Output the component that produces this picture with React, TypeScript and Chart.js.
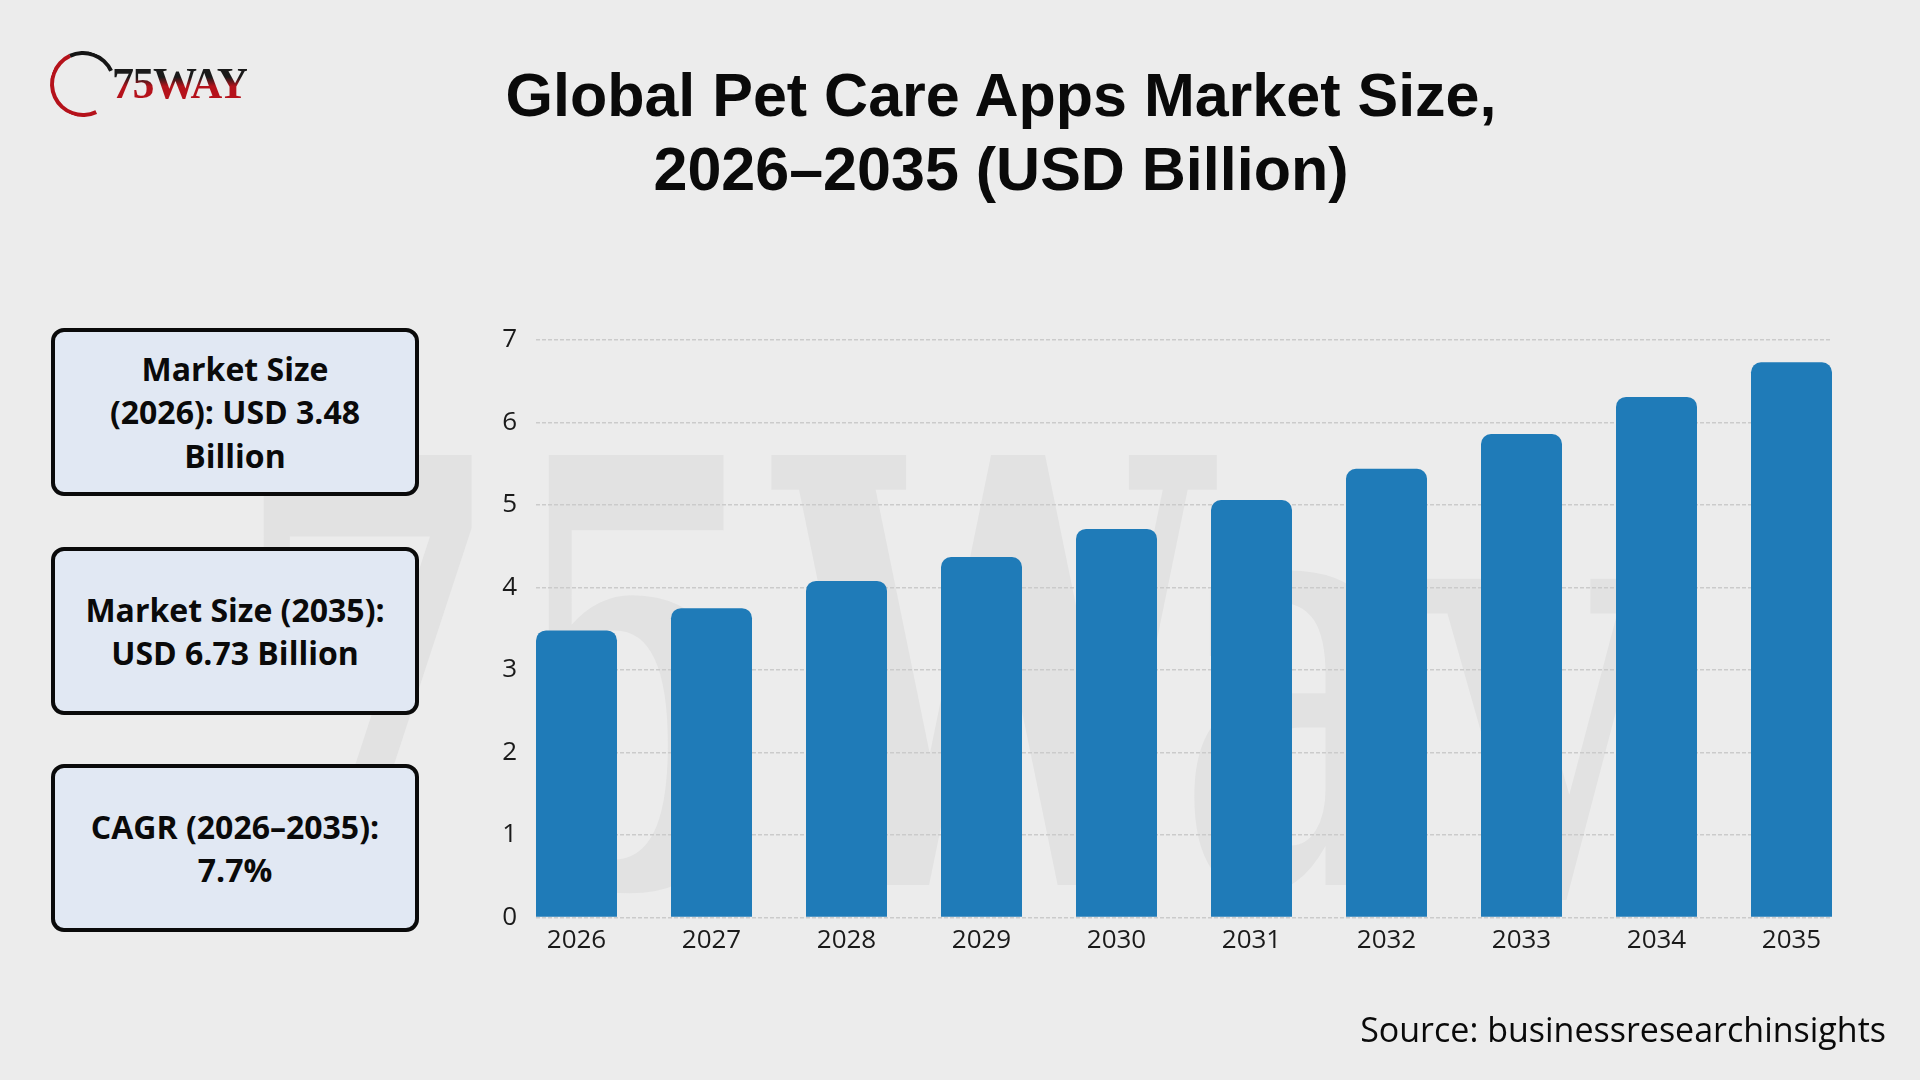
import React, { useEffect, useRef } from "react";
import { Chart, registerables } from "chart.js";

Chart.register(...registerables);

const years = ["2026", "2027", "2028", "2029", "2030", "2031", "2032", "2033", "2034", "2035"];
const marketSize = [3.48, 3.75, 4.08, 4.37, 4.71, 5.06, 5.44, 5.86, 6.31, 6.73];
const yMin = 0;
const yMax = 7;
const yStep = 1;

const titleLines = ["Global Pet Care Apps Market Size,", "2026\u20132035 (USD Billion)"];
const infoBoxes = [
  ["Market Size", "(2026): USD 3.48", "Billion"],
  ["Market Size (2035):", "USD 6.73 Billion"],
  ["CAGR (2026\u20132035):", "7.7%"],
];
const sourceText = "Source: businessresearchinsights";

const BG = "#ececec";
const BAR = "#1f7bb8";

export default function App() {
  const canvasRef = useRef<HTMLCanvasElement | null>(null);

  useEffect(() => {
    const canvas = canvasRef.current;
    if (!canvas) return;
    const tickFont = { family: "'Open Sans', Lato, sans-serif", size: 26 };
    const chart = new Chart(canvas, {
      type: "bar",
      data: {
        datasets: [
          {
            data: marketSize.map((v, i) => ({ x: i, y: v })),
            backgroundColor: BAR,
            borderRadius: 10,
            borderSkipped: "bottom",
            categoryPercentage: 1,
            barPercentage: 0.6,
          } as any,
        ],
      },
      options: {
        responsive: false,
        animation: false,
        devicePixelRatio: 1,
        layout: { padding: { left: 476, right: 88, top: 340, bottom: 122.5 } },
        plugins: { legend: { display: false }, tooltip: { enabled: false } },
        scales: {
          x: {
            type: "linear",
            offset: false,
            min: -0.3,
            max: years.length - 1 + 0.3,
            grid: { display: false, drawTicks: false },
            border: { display: false },
            afterBuildTicks: (s: any) => {
              s.ticks = years.map((_, i) => ({ value: i }));
            },
            afterFit: (s: any) => {
              s.height = 40;
            },
            ticks: {
              autoSkip: false,
              maxRotation: 0,
              padding: 7,
              color: "#1a1a1a",
              font: tickFont,
              callback: (v: any) => years[v as number] ?? "",
            },
          },
          y: {
            min: yMin,
            max: yMax,
            afterFit: (s: any) => {
              s.width = 60;
            },
            grid: { color: "#cbcbcb", lineWidth: 1.5, drawTicks: false },
            border: { display: false, dash: [4, 2] },
            ticks: {
              stepSize: yStep,
              padding: 19,
              color: "#1a1a1a",
              font: tickFont,
            },
          },
        },
      } as any,
    });
    return () => chart.destroy();
  }, []);

  const boxTops = [328, 547, 764];

  return (
    <div
      style={{
        position: "fixed",
        left: 0,
        top: 0,
        width: 1920,
        height: 1080,
        background: BG,
        overflow: "hidden",
      }}
    >
      {/* watermark */}
      <div
        style={{
          position: "absolute",
          left: 0,
          top: 0,
          width: 1920,
          height: 900,
          overflow: "hidden",
          zIndex: 0,
        }}
      >
        <div
          style={{
            position: "absolute",
            left: 233,
            top: 383,
            fontFamily: "'DejaVu Serif', serif",
            fontWeight: 700,
            fontSize: 590,
            lineHeight: 1,
            color: "#e2e2e2",
            whiteSpace: "nowrap",
            transform: "scaleX(0.66)",
            transformOrigin: "left top",
          }}
        >
          75Way
        </div>
      </div>

      {/* logo */}
      <div
        style={{
          position: "absolute",
          left: 50,
          top: 51,
          width: 58,
          height: 58,
          borderRadius: "50%",
          border: "4px solid",
          borderTopColor: "#151515",
          borderLeftColor: "#b5121b",
          borderBottomColor: "#b5121b",
          borderRightColor: "transparent",
          transform: "rotate(20deg)",
          zIndex: 2,
        }}
      />
      <div
        style={{
          position: "absolute",
          left: 112,
          top: 61,
          fontFamily: "'Liberation Serif', serif",
          fontWeight: 700,
          fontSize: 44,
          lineHeight: "46px",
          letterSpacing: -1.5,
          whiteSpace: "nowrap",
          backgroundImage: "linear-gradient(to bottom, #1a1a1a 0%, #1a1a1a 35%, #b5121b 55%, #b5121b 100%)",
          WebkitBackgroundClip: "text",
          backgroundClip: "text",
          color: "transparent",
          zIndex: 2,
        }}
      >
        75WAY
      </div>

      {/* title */}
      <div
        style={{
          position: "absolute",
          left: 401,
          top: 58,
          width: 1200,
          textAlign: "center",
          fontFamily: "'Liberation Sans', Arial, sans-serif",
          fontWeight: 700,
          fontSize: 61,
          lineHeight: "74px",
          color: "#0a0a0a",
          zIndex: 2,
        }}
      >
        {titleLines.map((l, i) => (
          <div key={i}>{l}</div>
        ))}
      </div>

      <canvas
        ref={canvasRef}
        width={1920}
        height={1080}
        style={{ position: "absolute", left: 0, top: 0, width: 1920, height: 1080, zIndex: 1 }}
      />

      {/* info boxes */}
      {infoBoxes.map((lines, i) => (
        <div
          key={i}
          style={{
            position: "absolute",
            left: 51,
            top: boxTops[i],
            width: 368,
            height: 168,
            boxSizing: "border-box",
            border: "4px solid #0a0a0a",
            borderRadius: 13,
            background: "#e1e8f3",
            display: "flex",
            flexDirection: "column",
            alignItems: "center",
            justifyContent: "center",
            fontFamily: "'Open Sans', Lato, sans-serif",
            fontWeight: 700,
            fontSize: 32,
            lineHeight: "43.5px",
            color: "#0a0a0a",
            textAlign: "center",
            zIndex: 2,
          }}
        >
          {lines.map((l, j) => (
            <div key={j} style={{ whiteSpace: "nowrap" }}>
              {l}
            </div>
          ))}
        </div>
      ))}

      {/* source */}
      <div
        style={{
          position: "absolute",
          right: 34,
          top: 1007,
          fontFamily: "'Open Sans', Lato, sans-serif",
          fontSize: 34,
          lineHeight: "44px",
          color: "#0a0a0a",
          whiteSpace: "nowrap",
          zIndex: 2,
        }}
      >
        {sourceText}
      </div>
    </div>
  );
}
